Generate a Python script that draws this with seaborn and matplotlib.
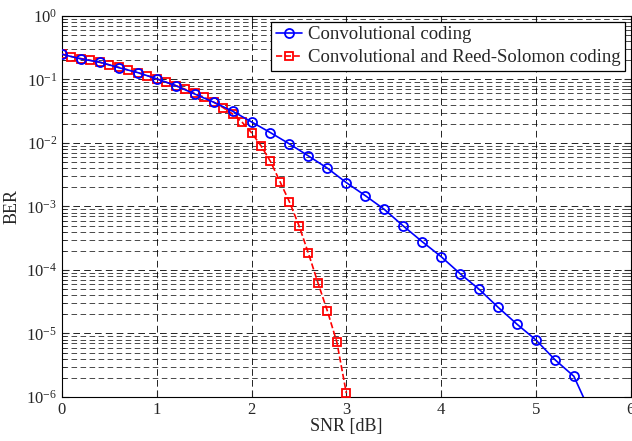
import numpy as np
import pandas as pd
import matplotlib
matplotlib.use("Agg")
import matplotlib.pyplot as plt
import seaborn as sns
from matplotlib.ticker import LogLocator, MultipleLocator

# --- Data ---
snr_conv = [0.0, 0.2, 0.4, 0.6, 0.8, 1.0, 1.2, 1.4, 1.6, 1.8, 2.0, 2.2, 2.4, 2.6,
            2.8, 3.0, 3.2, 3.4, 3.6, 3.8, 4.0, 4.2, 4.4, 4.6, 4.8, 5.0, 5.2, 5.4, 5.6]
ber_conv = [0.249, 0.210, 0.187, 0.153, 0.128, 0.102, 0.0798, 0.059, 0.0437, 0.0316,
            0.0214, 0.0145, 0.00964, 0.00624, 0.0040, 0.00237, 0.00148, 9.0e-4,
            4.93e-4, 2.79e-4, 1.62e-4, 8.75e-5, 4.97e-5, 2.59e-5, 1.40e-5, 7.9e-6,
            3.87e-6, 2.12e-6, 4.7e-7]

snr_rs = [0.0, 0.1, 0.2, 0.3, 0.4, 0.5, 0.6, 0.7, 0.8, 0.9, 1.0, 1.1, 1.2, 1.3, 1.4,
          1.5, 1.6, 1.7, 1.8, 1.9, 2.0, 2.1, 2.2, 2.3, 2.4, 2.5, 2.6, 2.7, 2.8, 2.9, 3.0]
ber_rs = [0.25, 0.229, 0.213, 0.200, 0.185, 0.169, 0.155, 0.141, 0.128, 0.115, 0.102,
          0.0903, 0.080, 0.070, 0.060, 0.0525, 0.044, 0.036, 0.0286, 0.0212, 0.0145,
          0.0090, 0.0051, 0.00246, 0.00118, 5.0e-4, 1.83e-4, 6.3e-5, 2.26e-5, 7.3e-6,
          1.15e-6]

label_conv = "Convolutional coding"
label_rs = "Convolutional and Reed-Solomon coding"

# --- Style ---
sns.set_style("ticks")
plt.rcParams["font.family"] = ["Liberation Serif", "DejaVu Serif"]
plt.rcParams["mathtext.fontset"] = "stix"
plt.rcParams["font.size"] = 11

df_conv = pd.DataFrame({"SNR": snr_conv, "BER": ber_conv})
df_rs = pd.DataFrame({"SNR": snr_rs, "BER": ber_rs})

fig = plt.figure(figsize=(6.32, 4.41), dpi=100)
ax = fig.add_axes([0.098, 0.0998, 0.9, 0.8642])

# red drawn below the blue circles, as in the reference
sns.lineplot(data=df_rs, x="SNR", y="BER", ax=ax, color="red", linestyle="--",
             linewidth=1.2, marker="s", markersize=5.5, markerfacecolor="none",
             markeredgecolor="red", markeredgewidth=1.3, zorder=3, label=label_rs)
sns.lineplot(data=df_conv, x="SNR", y="BER", ax=ax, color="blue", linestyle="-",
             linewidth=1.2, marker="o", markersize=6.5, markerfacecolor="none",
             markeredgecolor="blue", markeredgewidth=1.3, zorder=4, label=label_conv)

ax.set_yscale("log")
ax.set_xlim(0, 6)
ax.set_ylim(1e-6, 1)
ax.xaxis.set_major_locator(MultipleLocator(1))
ax.yaxis.set_major_locator(LogLocator(base=10, numticks=10))
ax.yaxis.set_minor_locator(LogLocator(base=10, subs=np.arange(2, 10), numticks=20))

grid_ls = (0, (8, 5))
ax.grid(True, which="major", axis="both", color="black", linestyle=grid_ls, linewidth=0.6)
ax.grid(True, which="minor", axis="y", color="black", linestyle=grid_ls, linewidth=0.5)

ax.tick_params(which="both", direction="in", top=True, right=True, labelsize=12)
ax.tick_params(which="major", length=5)
ax.tick_params(which="minor", length=3)
for s in ax.spines.values():
    s.set_linewidth(0.8)
    s.set_color("black")

ax.set_xlabel("SNR [dB]", fontsize=13, labelpad=0)
ax.set_ylabel("BER", fontsize=13, labelpad=4)

handles, labels = ax.get_legend_handles_labels()
leg = ax.legend(handles[::-1], labels[::-1], loc="upper right", fontsize=13.5,
                fancybox=False, framealpha=1, edgecolor="black", handlelength=1.4,
                handletextpad=0.3, borderaxespad=0.3, borderpad=0.25, labelspacing=0.3)
leg.get_frame().set_linewidth(0.9)

fig.savefig("out.png", dpi=100)
